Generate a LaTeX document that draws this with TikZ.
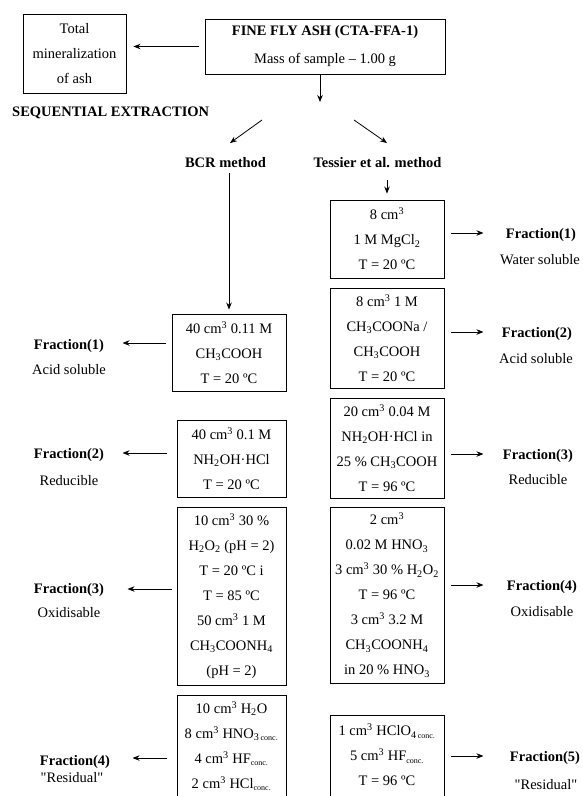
\documentclass[tikz,border=0pt]{standalone}
\usepackage{fontspec}
\setmainfont{Liberation Serif}[Ligatures=TeXOff]
\usetikzlibrary{arrows.meta,positioning,calc}
\newcommand{\cmc}{cm\textsuperscript{3}}
\newcommand{\conc}{{\fontsize{8}{8}\selectfont conc.}}
\newcommand{\sbs}[1]{\textsubscript{#1}}

\begin{document}
\begin{tikzpicture}[x=1pt,y=-1pt,
    txt/.style={font=\fontsize{14.5}{25}\selectfont, inner sep=0pt, align=center},
    box/.style={txt, draw, line width=0.9pt},
    tbox/.style={box, minimum width=114pt},
    bbox/.style={box, minimum width=109pt},
    frac/.style={txt, font=\fontsize{14.5}{25}\selectfont\bfseries},
    arr/.style={-{Stealth[length=7pt,width=5.5pt]}, line width=0.8pt}]
    \useasboundingbox (0,0) rectangle (582,796);
    \clip (0,0) rectangle (582,796);

    % sample and total mineralization
    \node[box, minimum width=103pt, minimum height=79pt] (total) at (74.5,53.5) {Total\\mineralization\\of ash};
    \node[box, minimum width=240pt, minimum height=55pt] (ash) at (325,46.5) {\textbf{FINE FLY ASH (CTA-FFA-1)}\\[3pt]Mass of sample – 1.00 g};
    \node[frac, anchor=west] (seq) at (12,113) {SEQUENTIAL EXTRACTION};
    \node[frac] (bcr) at (225.5,163) {BCR method};
    \node[frac] (tes) at (377.5,163) {Tessier et al. method};

    \draw[arr] ([xshift=-6pt]ash.west) -- ([xshift=7pt]total.east |- ash.west);
    \coordinate (split) at (320,102);
    \draw[arr] (ash.south -| split) -- (split);
    \coordinate (lfrom) at (262,120);
    \coordinate (lto) at (230,143);
    \coordinate (rfrom) at (354,120);
    \coordinate (rto) at (387,143);
    \draw[arr] (lfrom) -- (lto);
    \draw[arr] (rfrom) -- (rto);

    % Tessier et al. method
    \node[tbox, minimum height=78pt] (t1) at (387,239) {8 \cmc\\1 M MgCl\sbs{2}\\T = 20 ºC};
    \node[tbox, minimum height=100pt] (t2) at (387,338) {8 \cmc{} 1 M\\CH\sbs{3}COONa /\\CH\sbs{3}COOH\\T = 20 ºC};
    \node[tbox, minimum height=100pt] (t3) at (387,448) {20 \cmc{} 0.04 M\\NH\sbs{2}OH·HCl in\\25 \% CH\sbs{3}COOH\\T = 96 ºC};
    \node[tbox, minimum height=176pt] (t4) at (387,595) {2 \cmc\\0.02 M HNO\sbs{3}\\3 \cmc{} 30 \% H\sbs{2}O\sbs{2}\\T = 96 ºC\\3 \cmc{} 3.2 M\\CH\sbs{3}COONH\sbs{4}\\in 20 \% HNO\sbs{3}};
    \node[tbox, minimum height=92pt] (t5) at (387,761) {1 \cmc{} HClO\sbs{4\,\conc}\\5 \cmc{} HF\sbs{\conc}\\T = 96 ºC\rule[-12pt]{0pt}{12pt}};

    \node[frac] (fr1) at (541,235) {Fraction(1)};
    \node[txt] (ds1) at (540,260) {Water soluble};
    \node[frac] (fr2) at (537,334) {Fraction(2)};
    \node[txt] (ds2) at (536,359) {Acid soluble};
    \node[frac] (fr3) at (538,456) {Fraction(3)};
    \node[txt] (ds3) at (538,480) {Reducible};
    \node[frac] (fr4) at (542,587) {Fraction(4)};
    \node[txt] (ds4) at (542,612) {Oxidisable};
    \node[frac] (fr5) at (545,758) {Fraction(5)};
    \node[txt] (ds5) at (546,785) {"Residual"};

    \draw[arr, shorten <=12pt, shorten >=6pt] (tes.south -| t1.north) -- (t1.north);
    \foreach \i in {1,...,5}
      \draw[arr] ([xshift=7pt,yshift=2pt]t\i.east |- fr\i) -- ([xshift=39pt,yshift=2pt]t\i.east |- fr\i);

    % BCR method
    \node[box, minimum width=114pt, minimum height=77pt] (b1) at (229,352.5) {40 \cmc{} 0.11 M\\CH\sbs{3}COOH\\T = 20 ºC};
    \node[bbox, minimum height=77pt] (b2) at (231.5,458.5) {40 \cmc{} 0.1 M\\NH\sbs{2}OH·HCl\\T = 20 ºC};
    \node[bbox, minimum height=178pt] (b3) at (231.5,596) {10 \cmc{} 30 \%\\H\sbs{2}O\sbs{2} (pH = 2)\\T = 20 ºC i\\T = 85 ºC\\50 \cmc{} 1 M\\CH\sbs{3}COONH\sbs{4}\\(pH = 2)};
    \node[bbox, minimum height=112pt] (b4) at (231.5,751) {10 \cmc{} H\sbs{2}O\\8 \cmc{} HNO\sbs{3\,\conc}\\4 \cmc{} HF\sbs{\conc}\\2 \cmc{} HCl\sbs{\conc}\rule[-12pt]{0pt}{12pt}};

    \node[frac] (fl1) at (69,346) {Fraction(1)};
    \node[txt] (dl1) at (69,370) {Acid soluble};
    \node[frac] (fl2) at (69,455) {Fraction(2)};
    \node[txt] (dl2) at (69,481) {Reducible};
    \node[frac] (fl3) at (69,590) {Fraction(3)};
    \node[txt] (dl3) at (69,613) {Oxidisable};
    \node[frac] (fl4) at (75,762) {Fraction(4)};
    \node[txt] (dl4) at (72,778) {"Residual"};

    \draw[arr, shorten <=5pt, shorten >=4pt] (bcr.south -| b1.north) -- (b1.north);
    \draw[arr] ([xshift=-6pt,yshift=3pt]b1.west |- fl1) -- ([xshift=-49pt,yshift=3pt]b1.west |- fl1);
    \draw[arr] ([xshift=-10pt,yshift=2pt]b2.west |- fl2) -- ([xshift=-54pt,yshift=2pt]b2.west |- fl2);
    \draw[arr] ([xshift=-5pt,yshift=1pt]b3.west |- fl3) -- ([xshift=-49pt,yshift=1pt]b3.west |- fl3);
    \draw[arr] ([xshift=-10pt,yshift=4pt]b4.west |- fl4) -- ([xshift=-44pt,yshift=4pt]b4.west |- fl4);
\end{tikzpicture}
\end{document}
